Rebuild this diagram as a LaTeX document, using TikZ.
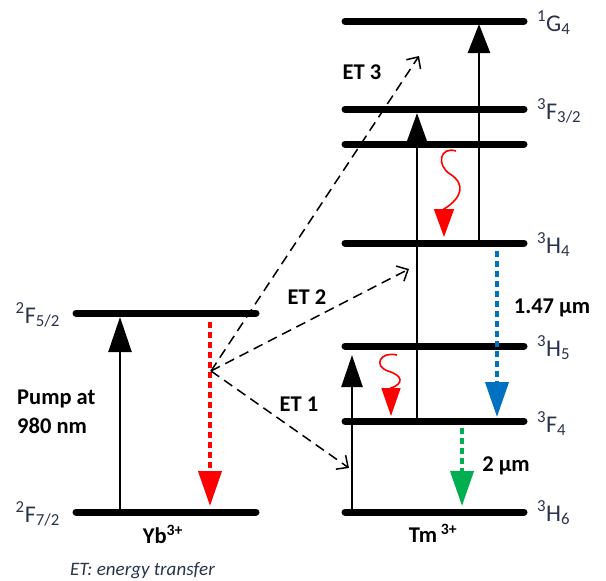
\documentclass[tikz,border=0pt]{standalone}
\usepackage{fontspec}
\setmainfont{Carlito}
\usetikzlibrary{arrows.meta}
\definecolor{lvl}{RGB}{40,52,75}
\definecolor{myred}{RGB}{255,0,0}
\definecolor{myblue}{RGB}{0,112,192}
\definecolor{mygreen}{RGB}{0,176,80}
\newcommand{\lv}[3]{\textsuperscript{#1}#2\textsubscript{#3}}
\tikzset{
  level/.style={line width=7pt, line cap=round},
  lvllabel/.style={font=\fontsize{24}{28}\selectfont, text=lvl, inner sep=0pt},
  boldlabel/.style={font=\fontsize{22.5}{29}\selectfont\bfseries, inner sep=0pt},
  uparrow/.style={line width=2.5pt, -{Triangle[width=21pt,length=30pt]}},
  etarrow/.style={line width=1.5pt, dash pattern=on 10pt off 6pt, -{Straight Barb[length=9pt,width=17pt]}},
  dotarrow/.style={line width=4pt, dash pattern=on 6pt off 4pt, -{Triangle[width=23pt,length=35pt]}},
  squiggle/.style={myred, line width=1.6pt, -{Triangle[width=19pt,length=28pt]}},
}
\begin{document}
\begin{tikzpicture}[x=1pt,y=-1pt]
\useasboundingbox (0,0) rectangle (606,581);

% ---- Tm levels ----
\foreach \n/\y in {G4/21, F32/109, F2/144, H4/243, H5/346, F4/421, H6/512}{
  \coordinate (Tm\n L) at (345,\y);
  \coordinate (Tm\n R) at (524,\y);
  \draw[level] (Tm\n L) -- (Tm\n R);
}
% ---- Yb levels ----
\coordinate (YbUL) at (76,313);  \coordinate (YbUR) at (256,313);
\coordinate (YbGL) at (76,512);  \coordinate (YbGR) at (256,512);
\draw[level] (YbUL) -- (YbUR);
\draw[level] (YbGL) -- (YbGR);

% ---- level labels ----
\node[lvllabel, anchor=base west] (lG4)  at (537,31)  {\lv{1}{G}{4}};
\node[lvllabel, anchor=base west] (lF32) at (537,119) {\lv{3}{F}{3/2}};
\node[lvllabel, anchor=base west] (lH4)  at (537,253) {\lv{3}{H}{4}};
\node[lvllabel, anchor=base west] (lH5)  at (537,356) {\lv{3}{H}{5}};
\node[lvllabel, anchor=base west] (lF4)  at (537,432) {\lv{3}{F}{4}};
\node[lvllabel, anchor=base west] (lH6)  at (537,521) {\lv{3}{H}{6}};
\node[lvllabel, anchor=base east] (lF52) at (60,323)  {\lv{2}{F}{5/2}};
\node[lvllabel, anchor=base east] (lF72) at (60,522)  {\lv{2}{F}{7/2}};

% ---- pump ----
\coordinate (pumpA) at (120,512);
\coordinate (pumpB) at (120,317);
\draw[uparrow, -{Triangle[width=23pt,length=35pt]}] (pumpA) -- (pumpB);
\node[boldlabel, align=left, anchor=west] (pump) at (17,412) {Pump at\\980 nm};

% ---- Yb emission (red dotted) ----
\coordinate (ybA) at (210,322);
\coordinate (ybB) at (210,506);
\draw[dotarrow, myred] (ybA) -- (ybB);

% ---- energy transfer dashed arrows ----
\coordinate (et0) at (211,371);
\coordinate (et1) at (349,468);
\coordinate (et2) at (409,269);
\coordinate (et3) at (419,56);
\draw[etarrow] (et0) -- (et1);
\draw[etarrow] (et0) -- (et2);
\draw[etarrow] (et0) -- (et3);
\node[boldlabel] (ET1) at (299,404) {ET 1};
\node[boldlabel] (ET2) at (307,297) {ET 2};
\node[boldlabel] (ET3) at (362,72)  {ET 3};

% ---- Tm absorption arrows ----
\coordinate (a1A) at (352,512); \coordinate (a1B) at (352,355);
\draw[uparrow, -{Triangle[width=21pt,length=32pt]}] (a1A) -- (a1B);
\coordinate (a2A) at (417,421); \coordinate (a2B) at (417,113);
\draw[uparrow, -{Triangle[width=20pt,length=29pt]}] (a2A) -- (a2B);
\coordinate (a3A) at (479,243); \coordinate (a3B) at (479,24);
\draw[uparrow, -{Triangle[width=22pt,length=29pt]}] (a3A) -- (a3B);

% ---- non-radiative (red squiggles) ----
\coordinate (s1A) at (456,151); \coordinate (s1B) at (444,237);
\draw[squiggle, -{Triangle[width=20pt,length=28pt]}] (s1A) .. controls (440,146) and (436,165) .. (450,174)
   .. controls (466,184) and (462,198) .. (444,209) -- (s1B);
\coordinate (s2A) at (397,355); \coordinate (s2B) at (391,416);
\draw[squiggle] (s2A) .. controls (380,351) and (373,366) .. (388,371)
   .. controls (404,376) and (403,384) .. (391,388) -- (s2B);

% ---- Tm emissions ----
\coordinate (bA) at (497,251); \coordinate (bB) at (497,417);
\draw[dotarrow, myblue] (bA) -- (bB);
\node[boldlabel] (l147) at (552,308) {1.47 µm};
\coordinate (gA) at (462,428); \coordinate (gB) at (462,506);
\draw[dotarrow, mygreen] (gA) -- (gB);
\node[boldlabel] (l2) at (506,466) {2 µm};

% ---- ion labels ----
\node[boldlabel, anchor=base] (yb) at (163,543) {Yb\textsuperscript{3+}};
\node[boldlabel, anchor=base] (tm) at (433,542) {Tm\,\textsuperscript{3+}};
\node[font=\fontsize{19}{22}\selectfont\itshape, text=lvl, inner sep=0pt, anchor=base west] (note) at (70,575) {ET: energy transfer};
\end{tikzpicture}
\end{document}
